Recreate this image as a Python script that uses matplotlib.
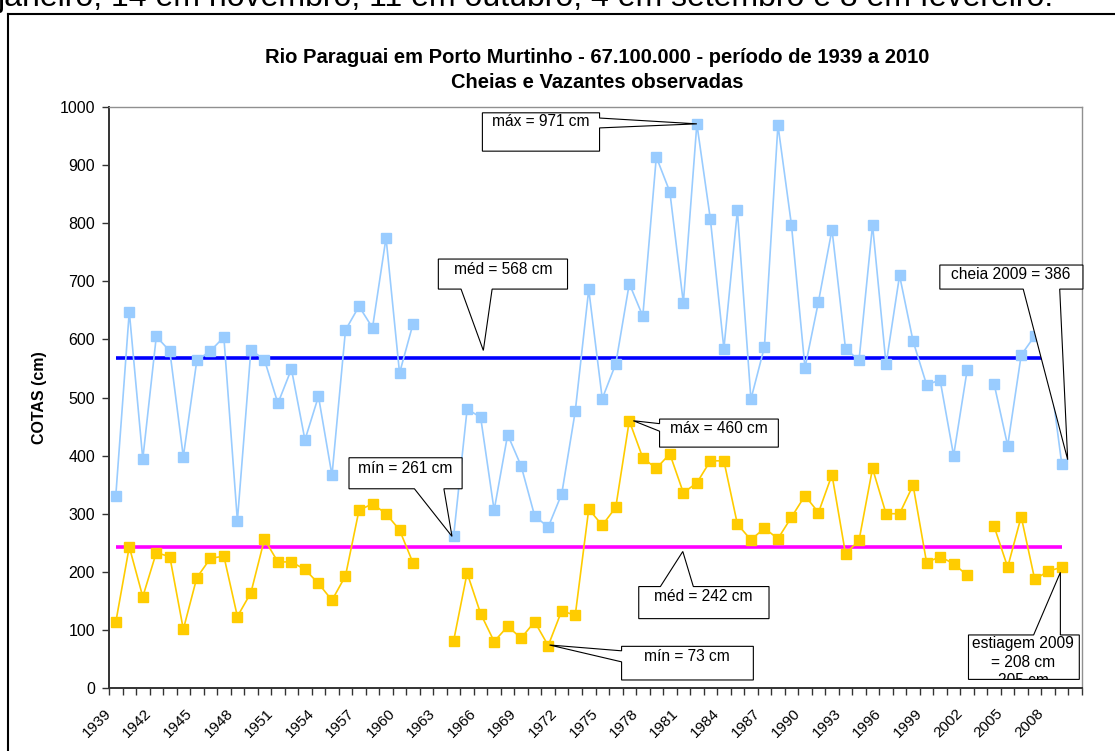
import numpy as np
import matplotlib
matplotlib.use("Agg")
import matplotlib.pyplot as plt
from matplotlib.patches import Polygon
from matplotlib.lines import Line2D
from matplotlib.transforms import Bbox, TransformedBbox

plt.rcParams['font.family'] = ['Liberation Sans', 'DejaVu Sans']

# dados (cm) - None = sem registro
anos = list(range(1939, 2011))
cheias = [330, 648, 394, 605, 580, 398, 564, 580, 604, 288,
          582, 565, 490, 549, 427, 502, 366, 616, 657, 620,
          775, 542, 627, None, None, 261, 480, 466, 306, 436,
          382, 296, 277, 334, 476, 686, 498, 558, 696, 640,
          914, 854, 663, 971, 807, 584, 822, 497, 587, 969,
          797, 551, 665, 789, 584, 564, 797, 557, 710, 597,
          522, 530, 400, 547, None, 523, 417, 573, 606, 563,
          386, None]
vazantes = [113, 243, 157, 233, 226, 101, 190, 223, 227, 123,
            164, 256, 217, 217, 204, 180, 151, 193, 306, 317,
            300, 272, 215, None, None, 81, 198, 128, 80, 106,
            86, 114, 73, 133, 125, 308, 280, 311, 460, 396,
            378, 403, 336, 353, 391, 391, 282, 255, 275, 257,
            294, 331, 302, 367, 231, 254, 378, 300, 300, 349,
            216, 226, 214, 194, None, 278, 208, 295, 187, 201,
            208, None]
media_cheias = 568
media_vazantes = 242
anos_rotulo = list(range(1939, 2010, 3))

titulo1 = "Rio Paraguai em Porto Murtinho - 67.100.000 - período de 1939 a 2010"
titulo2 = "Cheias e Vazantes observadas"
texto_topo = "janeiro, 14 em novembro, 11 em outubro, 4 em setembro e 8 em fevereiro."

c = np.array([np.nan if v is None else v for v in cheias], dtype=float)
v = np.array([np.nan if x is None else x for x in vazantes], dtype=float)

fig = plt.figure(figsize=(11.15, 7.51), dpi=100)
ax = fig.add_axes([109 / 1115, 63 / 751, 973 / 1115, 581 / 751])

ax.hlines(media_cheias, 1939, 2009, color='#0000FF', lw=2.6, zorder=2)
ax.hlines(media_vazantes, 1939, 2009, color='#FF00FF', lw=2.6, zorder=2)

ax.plot(anos, c, color='#99CCFF', lw=1.2, marker='s', ms=6.5, mec='#99CCFF', mfc='#99CCFF', zorder=3)
ax.plot(anos, v, color='#FFCC00', lw=1.2, marker='s', ms=6.5, mec='#FFCC00', mfc='#FFCC00', zorder=3)

ax.set_xlim(1938.5, 2010.5)
ax.set_ylim(0, 1000)
ax.set_yticks(range(0, 1001, 100))
# rótulos ancorados na divisa da categoria (como no Excel)
ax.set_xticks([a - 0.5 for a in anos_rotulo])
ax.set_xticklabels([str(a) for a in anos_rotulo], rotation=45, ha='right', va='center',
                   rotation_mode='anchor', fontsize=11)
ax.set_xticks(np.arange(1938.5, 2011, 1), minor=True)
ax.tick_params(axis='x', which='both', length=5, width=1, color='#333333', direction='out')
ax.tick_params(axis='x', which='major', pad=12)
ax.tick_params(axis='y', length=5, width=1, color='#333333', labelsize=11.5, pad=5)
ax.set_ylabel("COTAS (cm)", fontsize=11.5, fontweight='bold', labelpad=9)

for lado in ['left', 'bottom']:
    ax.spines[lado].set_color('#333333')
    ax.spines[lado].set_linewidth(1.4)
for lado in ['top', 'right']:
    ax.spines[lado].set_color('#909090')
    ax.spines[lado].set_linewidth(1.0)


def callout(caixa, lado, b1, b2, ponta):
    x0, x1, yb, yt = caixa
    if lado == 'right':
        pts = [(x0, yt), (x1, yt), (x1, b1), ponta, (x1, b2), (x1, yb), (x0, yb)]
    elif lado == 'bottom':
        pts = [(x0, yt), (x1, yt), (x1, yb), (b2, yb), ponta, (b1, yb), (x0, yb)]
    elif lado == 'left':
        pts = [(x0, yt), (x1, yt), (x1, yb), (x0, yb), (x0, b1), ponta, (x0, b2)]
    else:
        pts = [(x0, yt), (b1, yt), ponta, (b2, yt), (x1, yt), (x1, yb), (x0, yb)]
    ax.add_patch(Polygon(pts, closed=True, fc='white', ec='black', lw=0.8,
                         zorder=6, clip_on=False, joinstyle='miter'))


fs = 11.2
callout((1966.13, 1974.8, 924, 990), 'right', 981, 964, (1982, 971))
ax.text(1970.45, 975, "máx = 971 cm", ha='center', va='center', fontsize=fs, zorder=7)

callout((1962.87, 1972.43, 686.6, 738.3), 'bottom', 1964.55, 1966.85, (1966.2, 581))
ax.text(1967.65, 720, "méd = 568 cm", ha='center', va='center', fontsize=fs, zorder=7)

callout((1999.98, 2010.57, 686.6, 728), 'bottom', 2006.15, 2008.85, (2009.44, 393))
ax.text(2005.26, 711, "cheia 2009 = 386", ha='center', va='center', fontsize=fs, zorder=7)

callout((1956.26, 1964.63, 342.9, 396.3), 'bottom', 1961.1, 1963.28, (1963.88, 261))
ax.text(1960.39, 378.4, "mín = 261 cm", ha='center', va='center', fontsize=fs, zorder=7)

callout((1979.24, 1988.03, 414.6, 462.9), 'left', 442, 455, (1977.3, 460))
ax.text(1983.63, 446.3, "máx = 460 cm", ha='center', va='center', fontsize=fs, zorder=7)

callout((1977.7, 1987.34, 119.4, 174.6), 'top', 1979.3, 1981.74, (1980.96, 235))
ax.text(1982.49, 157.3, "méd = 242 cm", ha='center', va='center', fontsize=fs, zorder=7)

callout((1976.43, 1986.18, 13.8, 71.7), 'left', 45, 64, (1971.1, 74))
ax.text(1981.28, 54, "mín = 73 cm", ha='center', va='center', fontsize=fs, zorder=7)

callout((2002.1, 2010.3, 14.8, 91.3), 'top', 2006.92, 2008.9, (2008.9, 199))
clip = TransformedBbox(Bbox([[2002.1, 14.8], [2010.3, 91.3]]), ax.transData)
for linha, yy in [("estiagem 2009", 75.8), ("= 208 cm", 44.1), ("205 cm", 12.5)]:
    t = ax.text(2006.15, yy, linha, ha='center', va='center', fontsize=fs, zorder=7)
    t.set_clip_box(clip)
    t.set_clip_on(True)

fig.text(597.5 / 1115, 1 - 57.5 / 751, titulo1, ha='center', va='center', fontsize=14.5, fontweight='bold')
fig.text(597.5 / 1115, 1 - 82 / 751, titulo2, ha='center', va='center', fontsize=14.5, fontweight='bold')

# moldura da área do gráfico e texto do documento cortado no topo
fig.add_artist(Line2D([8 / 1115, 8 / 1115], [0, 1 - 14 / 751], transform=fig.transFigure, color='black', lw=1.5))
fig.add_artist(Line2D([8 / 1115, 1], [1 - 14 / 751, 1 - 14 / 751], transform=fig.transFigure, color='black', lw=1.5))
fig.text(-0.002, 1 - 6 / 751, texto_topo, ha='left', va='baseline', fontsize=23)

fig.savefig("out.png", dpi=100)
